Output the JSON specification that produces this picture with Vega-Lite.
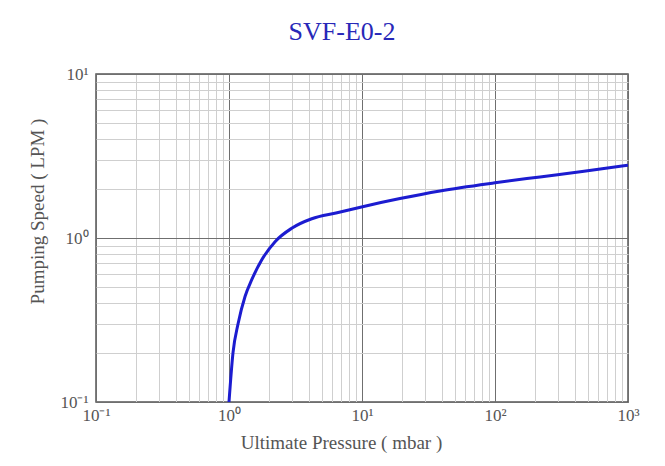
{
  "$schema": "https://vega.github.io/schema/vega-lite/v6.json",
  "width": 532,
  "height": 328,
  "autosize": {"type": "none"},
  "padding": {"left": 96, "top": 74, "right": 37, "bottom": 64},
  "background": "white",
  "title": {
    "text": "SVF-E0-2",
    "font": "Liberation Serif",
    "fontSize": 26,
    "fontWeight": "normal",
    "color": "#2828b8",
    "anchor": "middle",
    "dx": -20,
    "offset": 20
  },
  "data": {
    "values": [
      {"pressure": 1.0, "speed": 0.1},
      {"pressure": 1.072, "speed": 0.2},
      {"pressure": 1.17, "speed": 0.3},
      {"pressure": 1.32, "speed": 0.44},
      {"pressure": 1.48, "speed": 0.555},
      {"pressure": 1.76, "speed": 0.734},
      {"pressure": 2.22, "speed": 0.95},
      {"pressure": 2.96, "speed": 1.146},
      {"pressure": 4.19, "speed": 1.31},
      {"pressure": 6.5, "speed": 1.425},
      {"pressure": 10.1, "speed": 1.552},
      {"pressure": 19.3, "speed": 1.739},
      {"pressure": 38.6, "speed": 1.935},
      {"pressure": 100, "speed": 2.17},
      {"pressure": 218, "speed": 2.358},
      {"pressure": 467, "speed": 2.555},
      {"pressure": 1000, "speed": 2.78}
    ]
  },
  "mark": {"type": "line", "color": "#1c1cd0", "strokeWidth": 3, "interpolate": "monotone", "clip": true},
  "encoding": {
    "x": {
      "field": "pressure",
      "type": "quantitative",
      "scale": {"type": "log", "domain": [0.1, 1000], "nice": false},
      "axis": {
        "title": "Ultimate Pressure ( mbar )",
        "titleX": 245,
        "titlePadding": 10,
        "values": [0.1,0.2,0.3,0.4,0.5,0.6,0.7,0.8,0.9,1,2,3,4,5,6,7,8,9,10,20,30,40,50,60,70,80,90,100,200,300,400,500,600,700,800,900,1000],
        "labelExpr": "datum.value == 0.1 ? '10⁻¹' : datum.value == 1 ? '10⁰' : datum.value == 10 ? '10¹' : datum.value == 100 ? '10²' : datum.value == 1000 ? '10³' : ''",
        "gridColor": {"condition": {"test": "datum.value == 0.1 || datum.value == 1 || datum.value == 10 || datum.value == 100 || datum.value == 1000", "value": "#6f6f6f"}, "value": "#cfcfcf"},
        "labelPadding": 5
      }
    },
    "y": {
      "field": "speed",
      "type": "quantitative",
      "scale": {"type": "log", "domain": [0.1, 10], "nice": false},
      "axis": {
        "title": "Pumping Speed ( LPM )",
        "titleY": 137,
        "titlePadding": 12,
        "values": [0.1,0.2,0.3,0.4,0.5,0.6,0.7,0.8,0.9,1,2,3,4,5,6,7,8,9,10],
        "labelExpr": "datum.value == 0.1 ? '10⁻¹' : datum.value == 1 ? '10⁰' : datum.value == 10 ? '10¹' : ''",
        "gridColor": {"condition": {"test": "datum.value == 0.1 || datum.value == 1 || datum.value == 10", "value": "#6f6f6f"}, "value": "#cfcfcf"},
        "labelPadding": 8
      }
    }
  },
  "config": {
    "view": {"stroke": "#555555", "strokeWidth": 1.5},
    "axis": {
      "domain": false,
      "ticks": false,
      "grid": true,
      "gridWidth": 1,
      "labelFont": "Liberation Serif",
      "labelFontSize": 17,
      "labelColor": "#555555",
      "labelOverlap": false,
      "labelFlush": false,
      "titleFont": "Liberation Serif",
      "titleFontSize": 19,
      "titleFontWeight": "normal",
      "titleColor": "#555555"
    }
  }
}
